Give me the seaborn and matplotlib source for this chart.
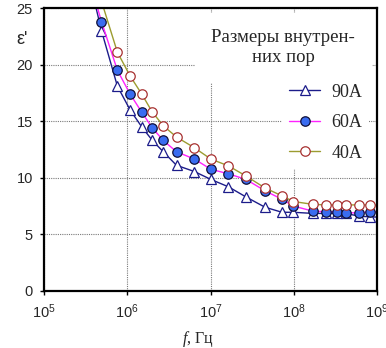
import pandas as pd
import seaborn as sns
import matplotlib.pyplot as plt
from matplotlib.ticker import NullLocator

# --- data ---
freq = [3.5e5, 4.9e5, 7.6e5, 1.08e6, 1.49e6, 2.0e6, 2.7e6, 3.9e6, 6.4e6,
        1.01e7, 1.64e7, 2.67e7, 4.5e7, 7.2e7, 9.9e7, 1.69e8, 2.42e8,
        3.28e8, 4.2e8, 6.1e8, 8.2e8, 1.2e9]
eps_90 = [27.5, 23.0, 18.1, 16.0, 14.5, 13.3, 12.3, 11.1, 10.55, 9.85, 9.2,
          8.3, 7.4, 6.95, 6.95, 6.85, 6.85, 6.85, 6.85, 6.6, 6.55, 6.5]
eps_60 = [27.5, 23.8, 19.5, 17.4, 15.8, 14.4, 13.3, 12.3, 11.65, 10.75, 10.35,
          9.85, 8.85, 8.1, 7.5, 7.05, 7.0, 7.0, 6.9, 6.9, 7.0, 6.95]
eps_40 = [30.0, 25.6, 21.1, 19.0, 17.4, 15.8, 14.6, 13.6, 12.65, 11.65, 11.05,
          10.15, 9.1, 8.4, 7.9, 7.65, 7.6, 7.6, 7.6, 7.6, 7.6, 7.55]
pores = ['90A', '60A', '40A']
legend_title = 'Размеры внутрен-\nних пор'

df = pd.DataFrame({
    'f': freq * 3,
    'eps': eps_90 + eps_60 + eps_40,
    'pore': [p for p in pores for _ in freq],
})

sns.set_style('ticks')
plt.rcParams['font.family'] = ['Liberation Sans', 'DejaVu Sans']
plt.rcParams['mathtext.fontset'] = 'custom'
plt.rcParams['mathtext.it'] = 'Liberation Serif:italic'
plt.rcParams['mathtext.default'] = 'regular'

styles = {
    '90A': dict(color='#1c1c8a', marker='^', markerfacecolor='white',
                markeredgecolor='#1c1c8a', markersize=7),
    '60A': dict(color='#ff22ff', marker='o', markerfacecolor='#3a6cf0',
                markeredgecolor='#10103a', markersize=6.8),
    '40A': dict(color='#9c9c30', marker='o', markerfacecolor='white',
                markeredgecolor='#a83232', markersize=6.8),
}

fig, ax = plt.subplots(figsize=(3.86, 3.48), dpi=100)
fig.subplots_adjust(left=0.114, right=0.977, bottom=0.164, top=0.977)

for p in pores:
    sns.lineplot(data=df[df['pore'] == p], x='f', y='eps', ax=ax, label=p,
                 estimator=None, sort=False, linewidth=1.0,
                 markeredgewidth=0.9, **styles[p])

ax.set_xscale('log')
ax.set_xlim(1e5, 1e9)
ax.set_ylim(0, 25)
ax.set_xticks([1e5, 1e6, 1e7, 1e8, 1e9])
ax.xaxis.set_minor_locator(NullLocator())
ax.set_yticks([0, 5, 10, 15, 20, 25])
ax.tick_params(axis='both', labelsize=10.5, length=3, width=1, pad=5,
               color='black', direction='out')

ax.grid(True, color='#7a7a7a', linestyle=(0, (1, 1)), linewidth=0.8)
ax.set_axisbelow(True)
for s in ax.spines.values():
    s.set_linewidth(1.6)
    s.set_color('black')

ax.set_ylabel("ε'", rotation=0, fontsize=13, ha='center', va='center')
ax.yaxis.set_label_coords(-0.066, 0.887)
ax.set_xlabel(r'$\mathit{f}$, Гц', fontsize=11.5, family='Liberation Serif',
              va='center')
ax.xaxis.set_label_coords(0.461, -0.170)

ax.text(0.718, 0.925, legend_title, transform=ax.transAxes, ha='center',
        va='top', family='Liberation Serif', fontsize=13.5, linespacing=1.2,
        bbox=dict(facecolor='white', edgecolor='none', pad=12))

leg = ax.legend(loc='upper left', bbox_to_anchor=(0.713, 0.758),
                borderaxespad=0, borderpad=0.4, handlelength=1.75,
                handletextpad=0.6, labelspacing=0.75, frameon=True,
                fancybox=False, framealpha=1, facecolor='white',
                edgecolor='none', prop={'family': 'Liberation Serif',
                                        'size': 13})

plt.savefig('out.png', dpi=100)
